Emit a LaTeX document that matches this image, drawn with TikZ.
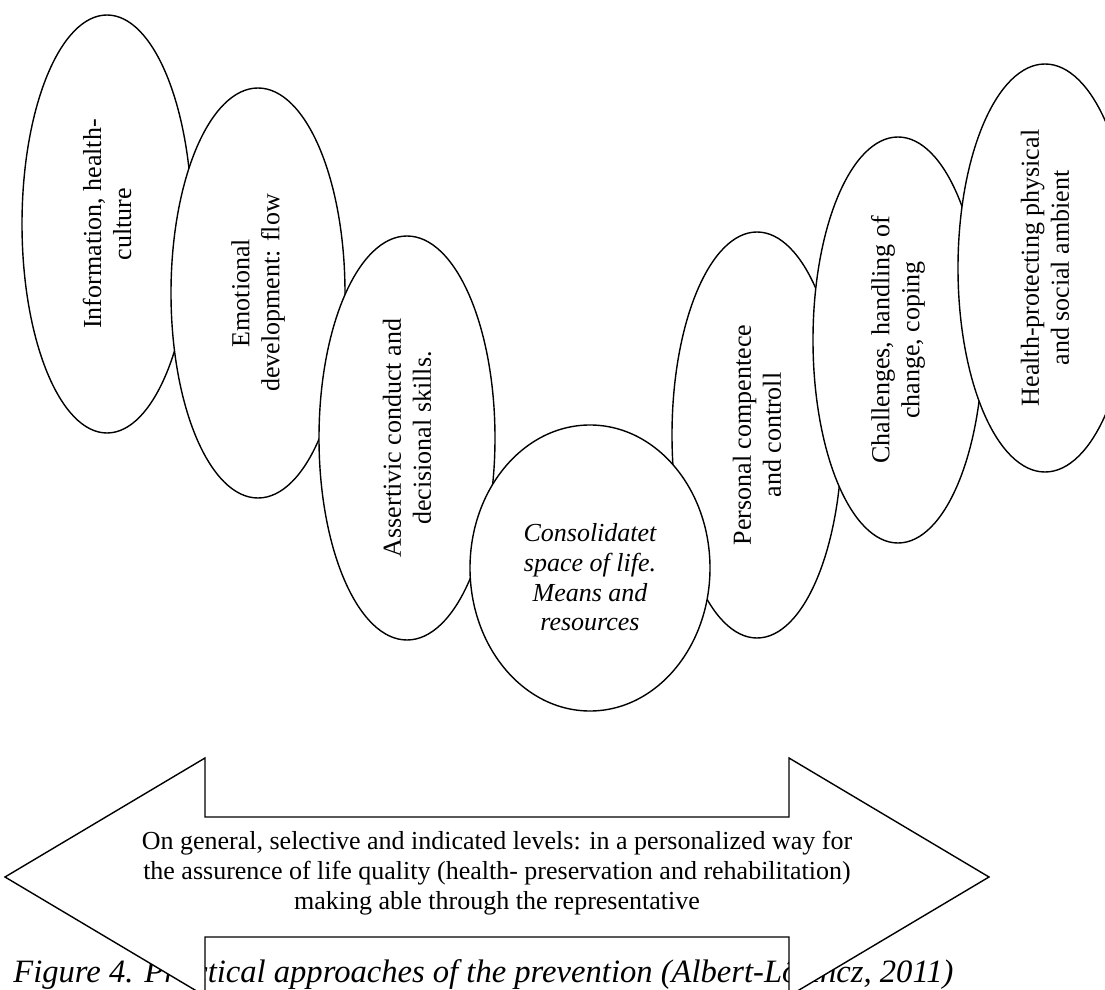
\documentclass[tikz,border=0pt]{standalone}
\usepackage{fontspec}
\setmainfont{Liberation Serif}
\usetikzlibrary{shapes.geometric}

\tikzset{
    oval/.style={ellipse, draw, fill=white, line width=0.7pt, inner sep=0pt, align=center, font=\fontsize{13}{15}\selectfont},
    blob/.style={oval, rotate=90},
}

\begin{document}
\begin{tikzpicture}[x=0.5pt, y=-0.5pt]
    \useasboundingbox (0,0) rectangle (1105,990);
    \clip (0,0) rectangle (1105,990);

    % Left chain
    \node[blob, minimum width=209pt, minimum height=85pt] (info) at (107,224) {Information, health-\\culture};
    \node[blob, minimum width=205pt, minimum height=87pt] (emotion) at (258,293) {Emotional\\development: flow};
    \node[blob, minimum width=202pt, minimum height=88pt] (assert) at (407,438) {Assertivic conduct and\\decisional skills.};

    % Right chain
    \node[blob, minimum width=203pt, minimum height=85pt] (personal) at (757,435) {Personal compentece\\and controll};
    \node[blob, minimum width=203pt, minimum height=85pt] (challenge) at (898,340) {Challenges, handling of\\change, coping};
    \node[blob, minimum width=204pt, minimum height=87pt] (ambient) at (1045,268) {Health-protecting physical\\and social ambient};

    % Centre
    \node[oval, font=\fontsize{13}{15}\selectfont\itshape, minimum width=120pt, minimum height=143pt] (space) at (590,568)
        {\raisebox{-6pt}[\height][\depth]{\begin{tabular}{@{}c@{}}Consolidatet\\space of life.\\Means and\\resources\end{tabular}}};

    % Caption (partly under the arrow)
    \node[anchor=base west, inner sep=0pt, font=\fontsize{16.3}{18}\selectfont\itshape] (caption) at (13,982) {Figure 4. Practical approaches of the prevention (Albert-Lőrincz, 2011)};

    % Double arrow
    \draw[line width=0.7pt, fill=white] (5,877) -- (205,758) -- (205,817) -- (789,817) -- (789,758) -- (989,877)
        -- (789,996) -- (789,937) -- (205,937) -- (205,996) -- cycle;
    \node[align=center, font=\fontsize{13}{15}\selectfont] (levels) at (497,873) {On general, selective and indicated levels: in a personalized way for\\the assurence of life quality (health- preservation and rehabilitation)\\making able through the representative};
\end{tikzpicture}
\end{document}
